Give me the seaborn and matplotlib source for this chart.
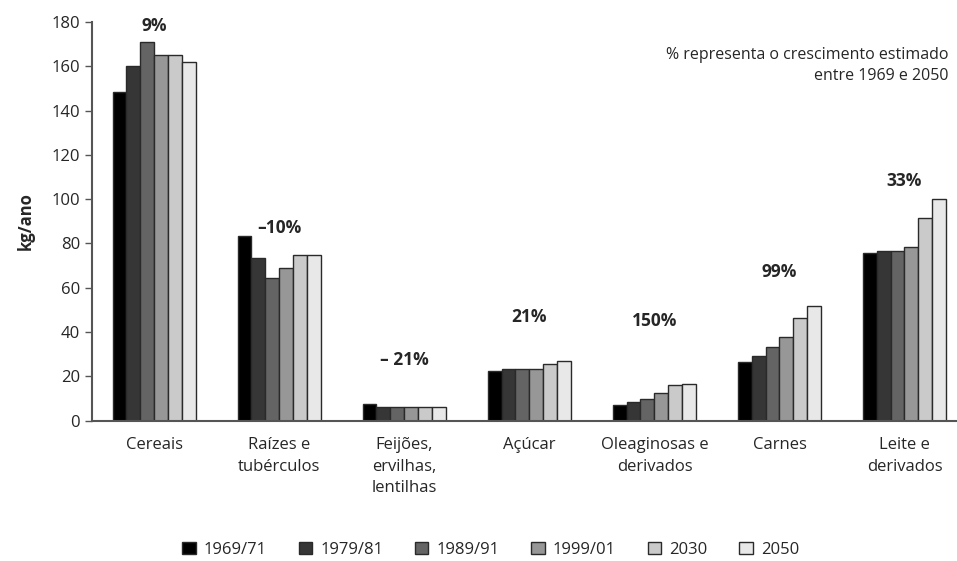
import pandas as pd
import matplotlib
import matplotlib.pyplot as plt
import seaborn as sns

sns.set_style("white")
matplotlib.rcParams['font.family'] = ['Open Sans', 'DejaVu Sans']

###################
# chart data      #
###################

categories = ["Cereais", "Raízes e\ntubérculos", "Feijões,\nervilhas,\nlentilhas", "Açúcar",
              "Oleaginosas e\nderivados", "Carnes", "Leite e\nderivados"]
periods = ["1969/71", "1979/81", "1989/91", "1999/01", "2030", "2050"]

v1969 = [148.5, 83.5, 7.5, 22.5, 7.0, 26.5, 75.5]
v1979 = [160.0, 73.5, 6.0, 23.5, 8.5, 29.0, 76.5]
v1989 = [171.0, 64.5, 6.0, 23.5, 10.0, 33.5, 76.5]
v1999 = [165.0, 69.0, 6.0, 23.5, 12.5, 38.0, 78.5]
v2030 = [165.0, 75.0, 6.0, 25.5, 16.0, 46.5, 91.5]
v2050 = [162.0, 75.0, 6.0, 27.0, 16.5, 52.0, 100.0]

growth_labels = ["9%", "\u201310%", "\u2013 21%", "21%", "150%", "99%", "33%"]
growth_y = [178, 87, 27.5, 47, 45, 67, 108]

colors = ["#000000", "#363636", "#646464", "#979797", "#cacaca", "#e8e8e8"]

df = pd.DataFrame({"categoria": categories * 6,
                   "periodo": [p for p in periods for _ in categories],
                   "valor": v1969 + v1979 + v1989 + v1999 + v2030 + v2050})

fig = plt.figure(figsize=(9.57, 5.61), dpi=100)
ax = fig.add_axes([0.096, 0.25, 0.904, 0.711])

sns.barplot(data=df, x="categoria", y="valor", hue="periodo", palette=colors,
            width=0.67, edgecolor="#2a2a2a", linewidth=1, ax=ax, legend=True)

ax.set_ylim(0, 180)
ax.set_xlim(-0.5, 6.42)
ax.set_yticks(range(0, 181, 20))
ax.tick_params(axis="y", direction="out", length=5, width=1, color="#555555",
               labelsize=12, left=True)
ax.tick_params(axis="x", length=0, labelsize=12, pad=12)
for t in ax.get_xticklabels():
    t.set_linespacing(1.45)
ax.set_xlabel("")
ax.set_ylabel("kg/ano", fontsize=12, fontweight="bold", labelpad=12)
sns.despine(ax=ax)
for s in ["left", "bottom"]:
    ax.spines[s].set_color("#555555")
    ax.spines[s].set_linewidth(1.5)

for i, (lab, yy) in enumerate(zip(growth_labels, growth_y)):
    ax.text(i, yy, lab, ha="center", va="center", fontsize=12.5, fontweight="bold")

ax.text(0.99, 0.89, "% representa o crescimento estimado\nentre 1969 e 2050",
        transform=ax.transAxes, ha="right", va="center", fontsize=11.5, linespacing=1.4)

leg = ax.legend(loc="center", bbox_to_anchor=(0.461, -0.323), ncol=6, frameon=False,
                fontsize=12, handlelength=0.8, handleheight=0.8, columnspacing=1.9,
                handletextpad=0.5)

fig.savefig("out.png", dpi=100)
